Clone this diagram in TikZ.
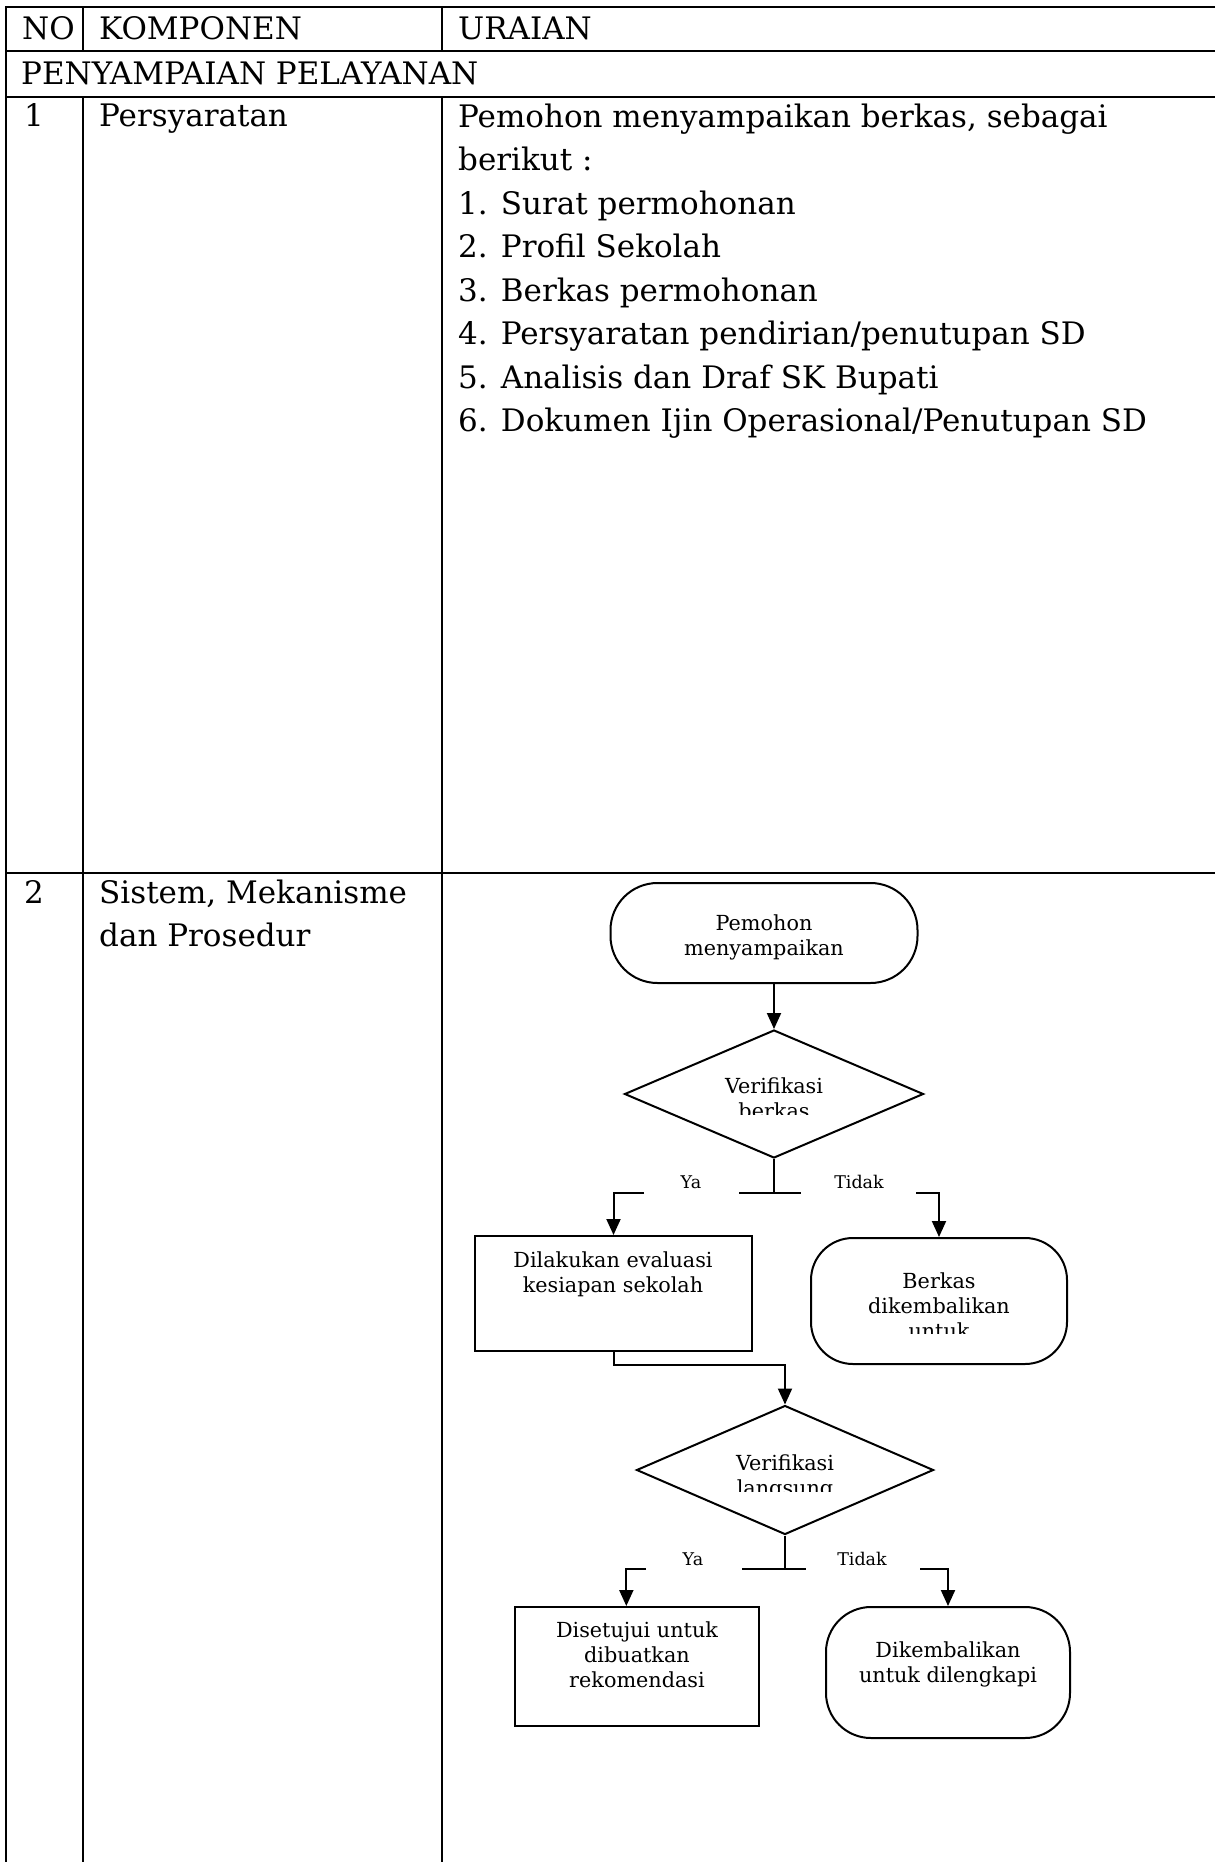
\documentclass[tikz,border=0pt]{standalone}
\usepackage{fontspec}
\setmainfont{DejaVu Serif}
\usetikzlibrary{arrows.meta,shapes.geometric,shapes.misc}

\begin{document}
\begin{tikzpicture}[x=1pt, y=-1pt]
	\tikzstyle{every node} = [inner sep=0pt]
	\tikzstyle{cell}      = [anchor=base west, align=left, font=\fontsize{31}{43.5}\selectfont]
	\tikzstyle{flow}      = [anchor=base, align=center, font=\fontsize{20.75}{25}\selectfont]
	\tikzstyle{cabang}    = [anchor=base, font=\fontsize{17.5}{21}\selectfont]
	\tikzstyle{garis}     = [line width=2.6pt]
	\tikzstyle{tipis}     = [line width=2pt]
	\tikzstyle{panah}     = [line width=2pt, -{Triangle[length=16pt,width=14pt]}]
	\tikzstyle{kotak}     = [draw, line width=2pt, rectangle]
	\tikzstyle{terminal}  = [draw, line width=2pt, rectangle]
	\tikzstyle{keputusan} = [draw, line width=2pt, diamond]
	\fill[white] (0,0) rectangle (1215,1862);
	\useasboundingbox (0,0) rectangle (1215,1862);
	% table
	\draw[garis] (1215,7) -- (6,7) -- (6,1862);
	\draw[garis] (6,51)  -- (1215,51);
	\draw[garis] (6,97)  -- (1215,97);
	\draw[garis] (6,873) -- (1215,873);
	\draw[garis] (83,7)  -- (83,51);
	\draw[garis] (442,7) -- (442,51);
	\draw[garis] (83,97)  -- (83,1862);
	\draw[garis] (442,97) -- (442,1862);
	\node[cell] (no)     at (22,40)  {NO};
	\node[cell] (komp)   at (99,40)  {KOMPONEN};
	\node[cell] (urai)   at (458,40) {URAIAN};
	\node[cell] (bagian) at (21,85)  {PENYAMPAIAN PELAYANAN};
	\node[cell] (no1)    at (24,127) {1};
	\node[cell] (komp1)  at (99,127) {Persyaratan};
	\node[cell] (urai1)  at (458,431.5) {Pemohon menyampaikan berkas, sebagai\\berikut :\\1. Surat permohonan\\2. Profil Sekolah\\3. Berkas permohonan\\4. Persyaratan pendirian/penutupan SD\\5. Analisis dan Draf SK Bupati\\6. Dokumen Ijin Operasional/Penutupan SD};
	\node[cell] (no2)    at (24,903) {2};
	\node[cell] (komp2)  at (99,946.5) {Sistem, Mekanisme\\dan Prosedur};
	% flowchart
	\node[terminal, minimum width=307pt, minimum height=100pt, rounded corners=47pt] (mulai) at (764,933) {};
	\node[keputusan, minimum width=299pt, minimum height=128pt] (cek1) at (774,1094) {};
	\node[kotak, minimum width=277pt, minimum height=115pt] (evaluasi) at (613.5,1293.5) {};
	\node[terminal, minimum width=256pt, minimum height=126pt, rounded corners=42pt] (kembali1) at (939,1301) {};
	\node[keputusan, minimum width=297pt, minimum height=129pt] (cek2) at (785,1470) {};
	\node[kotak, minimum width=244pt, minimum height=119pt] (setuju) at (637,1666.5) {};
	\node[terminal, minimum width=244pt, minimum height=131pt, rounded corners=45pt] (kembali2) at (948,1672.5) {};
	\node[flow] (tmulai)    at (764,955)  {Pemohon\\menyampaikan};
	\node[flow] (tevaluasi) at (613,1292) {Dilakukan evaluasi\\kesiapan sekolah};
	\node[flow] (tsetuju)   at (637,1687) {Disetujui untuk\\dibuatkan\\rekomendasi};
	\node[flow] (tkembali2) at (948,1682) {Dikembalikan\\untuk dilengkapi};
	\begin{scope}
		\clip (620,1060) rectangle (930,1114);
		\node[flow] (tcek1) at (774,1118) {Verifikasi\\berkas};
	\end{scope}
	\begin{scope}
		\clip (815,1250) rectangle (1065,1333);
		\node[flow] (tkembali1) at (939,1338) {Berkas\\dikembalikan\\untuk};
	\end{scope}
	\begin{scope}
		\clip (640,1430) rectangle (930,1491);
		\node[flow] (tcek2) at (785,1495) {Verifikasi\\langsung};
	\end{scope}
	\node[cabang] (ya1)    at (691,1188) {Ya};
	\node[cabang] (tidak1) at (859,1188) {Tidak};
	\node[cabang] (ya2)    at (693,1565) {Ya};
	\node[cabang] (tidak2) at (862,1565) {Tidak};
	\coordinate (pisah1) at (774,1193);
	\coordinate (bar1a)  at (739,1193);
	\coordinate (bar1b)  at (801,1193);
	\coordinate (kiri1)  at (644,1193);
	\coordinate (kanan1) at (916,1193);
	\coordinate (pisah2) at (785,1569);
	\coordinate (bar2a)  at (742,1569);
	\coordinate (bar2b)  at (806,1569);
	\coordinate (kiri2)  at (646,1569);
	\coordinate (kanan2) at (920,1569);
	\draw[panah] (mulai.south -| cek1.north) -- (cek1.north);
	\draw[tipis] (cek1.south) -- (pisah1);
	\draw[tipis] (bar1a) -- (bar1b);
	\draw[panah] (kiri1)  -| (evaluasi.north);
	\draw[panah] (kanan1) -| (kembali1.north);
	\draw[panah] (evaluasi.south) -- ++(0,13) -| (cek2.north);
	\draw[tipis] (cek2.south) -- (pisah2);
	\draw[tipis] (bar2a) -- (bar2b);
	\draw[panah] (kiri2)  -| (setuju.100);
	\draw[panah] (kanan2) -| (kembali2.north);
\end{tikzpicture}
\end{document}
